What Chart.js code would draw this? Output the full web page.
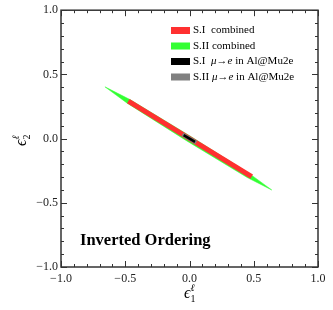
<!DOCTYPE html>
<html><head><meta charset="utf-8">
<script src="https://cdn.jsdelivr.net/npm/chart.js@4/dist/chart.umd.min.js"></script>
<style>html,body{margin:0;padding:0;background:#fff}#wrap{width:333px;height:310px}</style>
</head><body><div id="wrap"><canvas id="c" width="333" height="310"></canvas></div>
<script>
const seriesLabels = ['S.I  combined', 'S.II combined', 'S.I  \u03bc\u2192e in Al@Mu2e', 'S.II \u03bc\u2192e in Al@Mu2e'];
const seriesColors = ['#ff3030', '#33ff33', '#000000', '#808080'];
const siCombined = [{x:-0.476,y:0.292},{x:0.484,y:-0.297}];
const siiCombined = [
  {x:-0.658,y:0.403},{x:-0.467,y:0.306},{x:0.003,y:0.021},{x:0.467,y:-0.273},
  {x:0.640,y:-0.400},{x:0.449,y:-0.303},{x:-0.021,y:-0.018},{x:-0.485,y:0.276},
  {x:-0.658,y:0.403}
];
const siMu2e = [{x:-0.046,y:0.027},{x:0.043,y:-0.025}];
const siiMu2e = [{x:-0.055,y:0.033},{x:0.052,y:-0.031}];
const tickValues = [-1.0,-0.5,0.0,0.5,1.0];
const annotationText = 'Inverted Ordering';

const FONT = "'Liberation Serif', 'DejaVu Serif', serif";
const fmt = v => (v < 0 ? '\u2212' : '') + Math.abs(v).toFixed(1);

const frame = {
  id: 'frame',
  afterDraw(chart) {
    const ctx = chart.ctx, a = chart.chartArea;
    const xs = chart.scales.x, ys = chart.scales.y;
    ctx.save();
    ctx.strokeStyle = '#333'; ctx.lineWidth = 1.5;
    ctx.strokeRect(a.left, a.top, a.right - a.left, a.bottom - a.top);
    ctx.lineWidth = 1;
    for (let i = -10; i <= 10; i++) {
      const v = i / 10, major = (i % 5 === 0), L = major ? 6 : 3;
      const px = Math.round(xs.getPixelForValue(v)) + 0.5;
      const py = Math.round(ys.getPixelForValue(v)) + 0.5;
      ctx.beginPath();
      ctx.moveTo(px, a.bottom); ctx.lineTo(px, a.bottom - L);
      ctx.moveTo(px, a.top); ctx.lineTo(px, a.top + L);
      ctx.moveTo(a.left, py); ctx.lineTo(a.left + L, py);
      ctx.moveTo(a.right, py); ctx.lineTo(a.right - L, py);
      ctx.stroke();
    }
    // legend
    ctx.textBaseline = 'middle'; ctx.textAlign = 'left';
    const rows = [30.5, 46, 61.5, 77];
    seriesLabels.forEach((lab, i) => {
      const y = rows[i];
      ctx.fillStyle = seriesColors[i];
      ctx.fillRect(171, y - 3.5, 19, 7);
      ctx.fillStyle = '#000';
      let x = 193;
      const parts = lab.split(/(\u03bc|\u2192e)/);
      parts.forEach(p => {
        if (!p) return;
        if (p === '\u03bc') { ctx.font = 'italic 11px ' + FONT; ctx.fillText(p, x, y); x += ctx.measureText(p).width; }
        else if (p === '\u2192e') {
          ctx.font = '11px ' + FONT; ctx.fillText('\u2192', x, y); x += ctx.measureText('\u2192').width;
          ctx.font = 'italic 11px ' + FONT; ctx.fillText('e', x, y); x += ctx.measureText('e').width;
        } else { ctx.font = '11px ' + FONT; ctx.fillText(p, x, y); x += ctx.measureText(p).width; }
      });
    });
    // annotation
    ctx.font = 'bold 16.5px ' + FONT;
    ctx.fillText(annotationText, 80, 241);
    // axis titles
    const drawEps = (x, y, sub) => {
      ctx.font = 'italic 16px ' + FONT;
      ctx.fillText('\u03f5', x, y);
      const w = ctx.measureText('\u03f5').width;
      ctx.font = '10px ' + FONT;
      ctx.fillText(sub, x + w, y + 5);
      ctx.font = 'italic 10px ' + FONT;
      ctx.fillText('\u2113', x + w, y - 6);
    };
    drawEps(184, 294, '1');
    ctx.save();
    ctx.translate(22, 140); ctx.rotate(-Math.PI / 2);
    drawEps(-6, 0, '2');
    ctx.restore();
    ctx.restore();
  }
};

const ds = (label, data, color, w, order, extra) => Object.assign({label, data, borderColor: color, backgroundColor: color,
  borderWidth: w, showLine: true, pointRadius: 0, borderCapStyle: 'butt', order}, extra || {});

new Chart(document.getElementById('c'), {
  type: 'scatter',
  data: { datasets: [
    ds(seriesLabels[0], siCombined, seriesColors[0], 5, 2),
    ds(seriesLabels[1], siiCombined, seriesColors[1], 0.5, 3, { fill: 'shape' }),
    ds(seriesLabels[2], siMu2e, seriesColors[2], 2.5, 0),
    ds(seriesLabels[3], siiMu2e, seriesColors[3], 4, 1)
  ]},
  options: {
    responsive: false, animation: false, devicePixelRatio: 1,
    layout: { padding: { left: 0, right: 15, top: 10, bottom: 0 } },
    plugins: { legend: { display: false }, tooltip: { enabled: false } },
    scales: {
      x: { type: 'linear', min: -1, max: 1,
        afterBuildTicks: s => { s.ticks = tickValues.map(v => ({value: v})); },
        afterFit: s => { s.height = 43; },
        grid: { display: false, drawTicks: false }, border: { display: false },
        ticks: { callback: fmt, font: { family: FONT, size: 12 }, color: '#222', padding: 5, maxRotation: 0 } },
      y: { type: 'linear', min: -1, max: 1,
        afterBuildTicks: s => { s.ticks = tickValues.map(v => ({value: v})); },
        afterFit: s => { s.width = 61; },
        grid: { display: false, drawTicks: false }, border: { display: false },
        ticks: { callback: fmt, font: { family: FONT, size: 12 }, color: '#222', padding: 3 } }
    }
  },
  plugins: [frame]
});
</script></body></html>
